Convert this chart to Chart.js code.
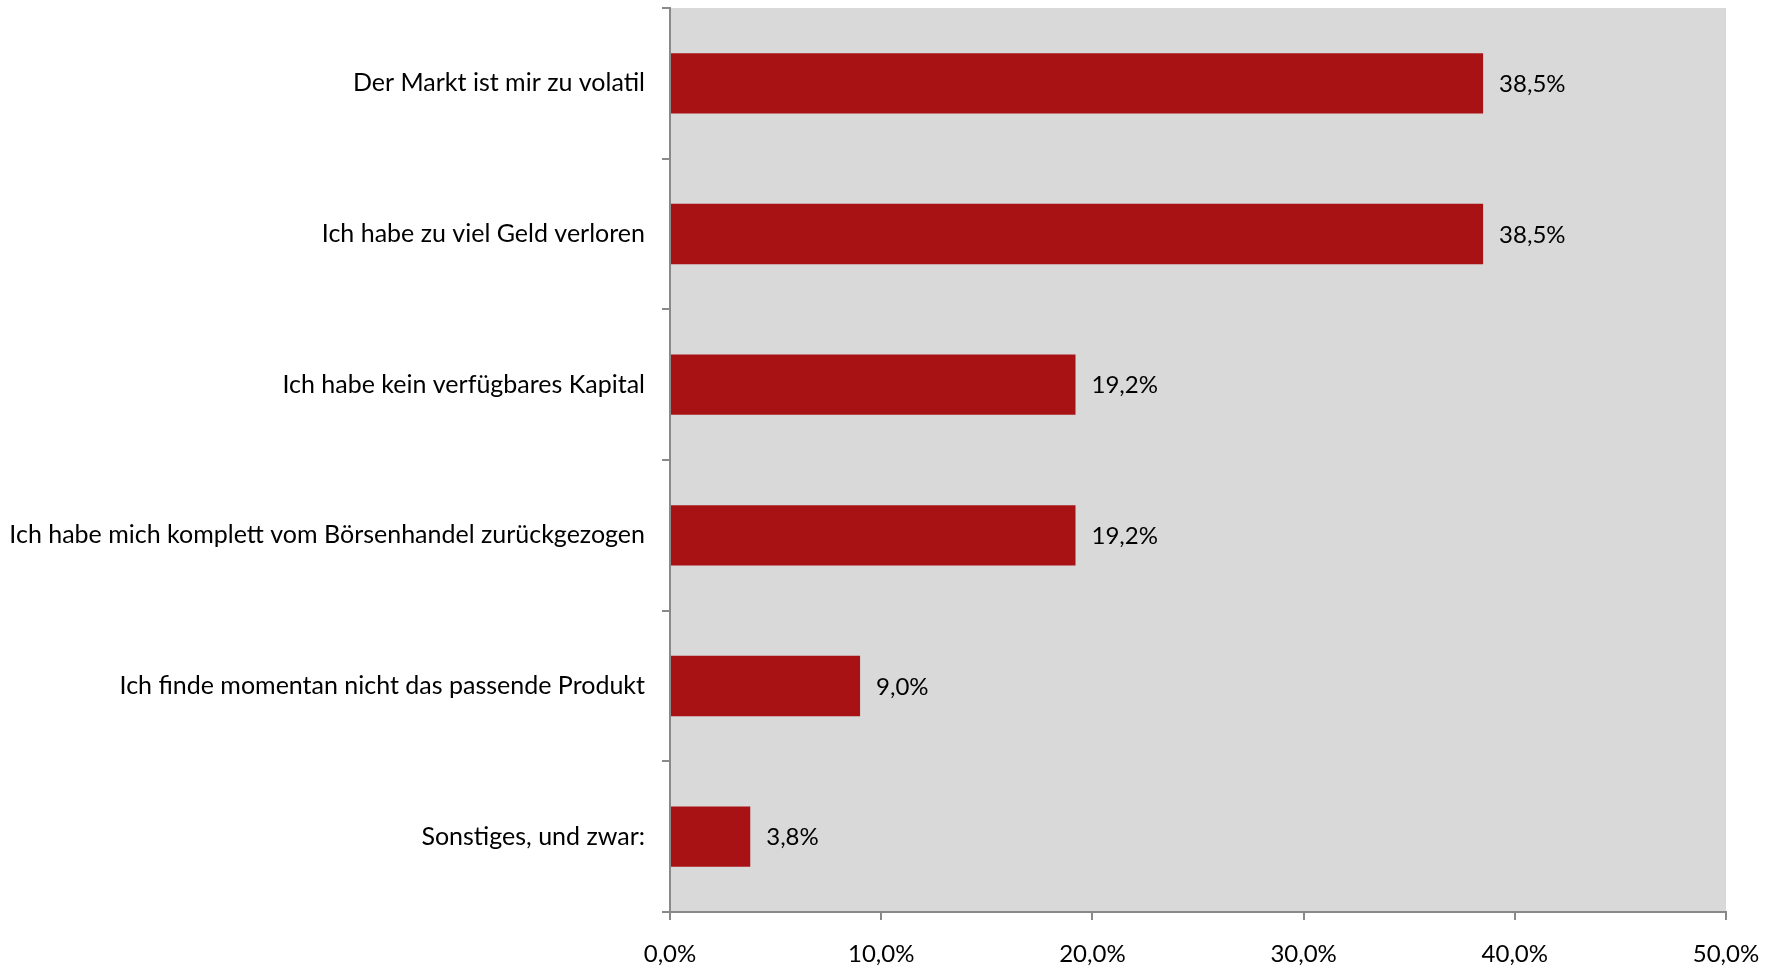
<!DOCTYPE html>
<html>
<head>
<meta charset="utf-8">
<script src="https://cdn.jsdelivr.net/npm/chart.js@4"></script>
<style>
  html, body { margin: 0; padding: 0; background: #fff; }
  #wrap { width: 1777px; height: 968px; }
</style>
</head>
<body>
<div id="wrap"><canvas id="chart"></canvas></div>
<script>
const categories = [
  "Der Markt ist mir zu volatil",
  "Ich habe zu viel Geld verloren",
  "Ich habe kein verfügbares Kapital",
  "Ich habe mich komplett vom Börsenhandel zurückgezogen",
  "Ich finde momentan nicht das passende Produkt",
  "Sonstiges, und zwar:",
];
const values = [38.5, 38.5, 19.2, 19.2, 9.0, 3.8];
const xTicks = [0, 10, 20, 30, 40, 50];

const fontFamily = "Lato, 'Open Sans', sans-serif";
const axisColor = "#898989";

const fmt = (v) => v.toFixed(1).replace(".", ",") + "%";

// grey plot area + value labels next to bars
const plotBg = {
  id: "plotBg",
  beforeDraw(chart) {
    const { ctx, chartArea: a } = chart;
    ctx.save();
    ctx.fillStyle = "#D9D9D9";
    ctx.fillRect(a.left, a.top, a.right - a.left, a.bottom - a.top);
    ctx.restore();
  },
};

const valueLabels = {
  id: "valueLabels",
  afterDatasetsDraw(chart) {
    const { ctx } = chart;
    const meta = chart.getDatasetMeta(0);
    ctx.save();
    ctx.font = "24px " + fontFamily;
    ctx.fillStyle = "#000";
    ctx.textAlign = "left";
    ctx.textBaseline = "middle";
    meta.data.forEach((bar, i) => {
      ctx.fillText(fmt(values[i]), bar.x + 16, bar.y + 1);
    });
    ctx.restore();
  },
};

new Chart(document.getElementById("chart"), {
  type: "bar",
  data: {
    labels: categories,
    datasets: [{
      data: values,
      backgroundColor: "#A91215",
      borderWidth: 0,
      barPercentage: 0.8,
      categoryPercentage: 0.5,
    }],
  },
  options: {
    indexAxis: "y",
    responsive: true,
    maintainAspectRatio: false,
    animation: false,
    layout: { padding: { top: 8, right: 51, left: 0, bottom: 0 } },
    plugins: { legend: { display: false }, tooltip: { enabled: false } },
    scales: {
      x: {
        min: 0,
        max: 50,
        afterBuildTicks(scale) {
          scale.ticks = xTicks.map((v) => ({ value: v }));
        },
        afterFit(scale) {
          scale.height = 56;
          scale.paddingLeft = 0;
          scale.paddingRight = 0;
        },
        grid: { drawOnChartArea: false, drawTicks: true, tickLength: 8, color: axisColor, lineWidth: 2 },
        border: { display: true, color: axisColor, width: 2 },
        ticks: {
          color: "#000",
          font: { family: fontFamily, size: 24 },
          padding: 20,
          maxRotation: 0,
          callback: (v) => fmt(v),
        },
      },
      y: {
        offset: true,
        afterFit(scale) {
          scale.width = 670;
          scale.paddingTop = 0;
          scale.paddingBottom = 0;
        },
        grid: { offset: true, drawOnChartArea: false, drawTicks: true, tickLength: 8, color: axisColor, lineWidth: 2 },
        border: { display: true, color: axisColor, width: 2 },
        ticks: {
          color: "#000",
          font: { family: fontFamily, size: 25 },
          padding: 17,
        },
      },
    },
  },
  plugins: [plotBg, valueLabels],
});
</script>
</body>
</html>
